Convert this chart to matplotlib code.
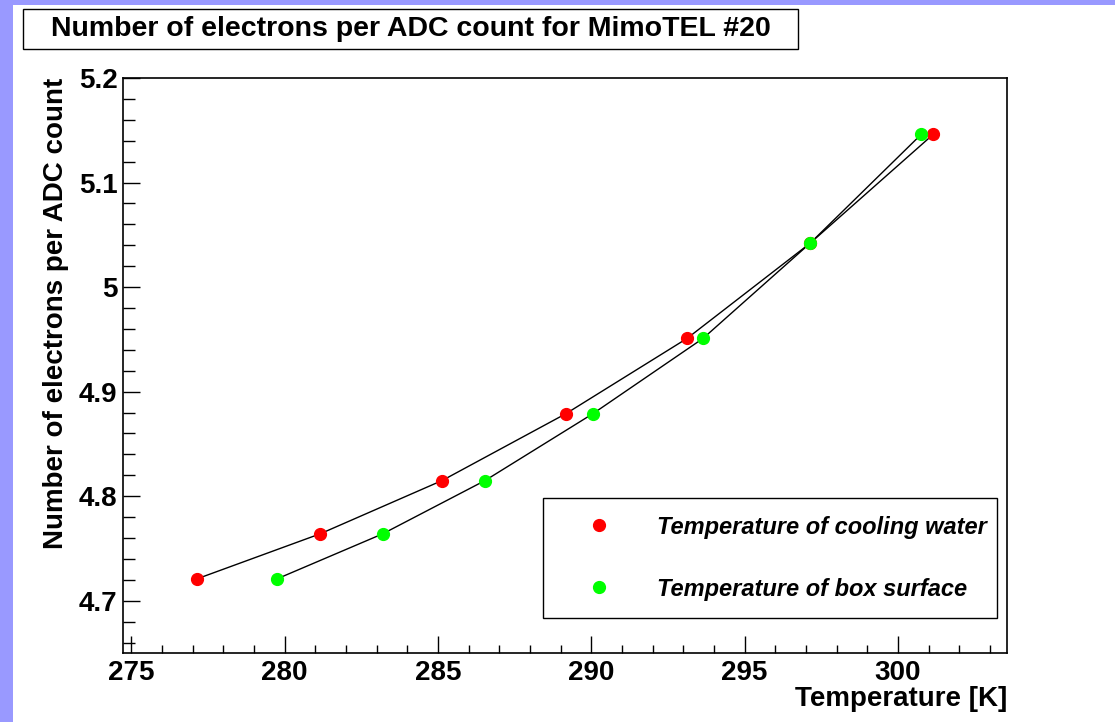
import matplotlib
matplotlib.use('Agg')
import matplotlib.pyplot as plt
from matplotlib.patches import Rectangle
from matplotlib.ticker import MultipleLocator

plt.rcParams['font.family'] = ['Liberation Sans', 'DejaVu Sans']
plt.rcParams['font.weight'] = 'bold'
plt.rcParams['axes.labelweight'] = 'bold'

# cooling water temperature
t_water = [277.15, 281.16, 285.14, 289.18, 293.13, 297.14, 301.15]
e_water = [4.721, 4.764, 4.815, 4.879, 4.951, 5.042, 5.146]

# box surface temperature
t_box = [279.76, 283.2, 286.54, 290.06, 293.65, 297.14, 300.76]
e_box = [4.721, 4.764, 4.815, 4.879, 4.951, 5.042, 5.146]

W, H = 1115, 722
fig = plt.figure(figsize=(W / 100, H / 100), dpi=100, facecolor='#9999ff')

# white pad (lavender strip left and top)
fig.patches.append(Rectangle((13 / W, 0), 1 - 13 / W, 1 - 5 / H,
                             transform=fig.transFigure, facecolor='white',
                             edgecolor='none', zorder=-5))

ax = fig.add_axes([123 / W, 1 - 653 / H, (1007 - 123) / W, (653 - 78) / H])
ax.set_facecolor('white')

ax.plot(t_water, e_water, '-', color='black', lw=1.0, zorder=2)
ax.plot(t_box, e_box, '-', color='black', lw=1.0, zorder=2)
ax.plot(t_water, e_water, 'o', color='#ff0000', ms=8.5, mec='#ff0000', zorder=3,
        label='Temperature of cooling water')
ax.plot(t_box, e_box, 'o', color='#00ff00', ms=8.5, mec='#00ff00', zorder=4,
        label='Temperature of box surface')

ax.set_xlim(274.73, 303.56)
ax.set_ylim(4.65, 5.2)

ax.xaxis.set_major_locator(MultipleLocator(5))
ax.xaxis.set_minor_locator(MultipleLocator(1))
ax.yaxis.set_major_locator(MultipleLocator(0.1))
ax.yaxis.set_minor_locator(MultipleLocator(0.02))
ax.yaxis.set_major_formatter(matplotlib.ticker.FuncFormatter(lambda v, p: ('%g' % round(v, 2))))

ax.tick_params(axis='both', which='both', direction='in', top=False, right=False,
               width=1.0, labelsize=20)
ax.tick_params(axis='x', which='major', length=12.2, pad=5)
ax.tick_params(axis='x', which='minor', length=5.8)
ax.tick_params(axis='y', which='major', length=12.2, pad=4)
ax.tick_params(axis='y', which='minor', length=8.6)
for s in ax.spines.values():
    s.set_linewidth(1.2)

ax.set_xlabel('Temperature [K]', loc='right', fontsize=20, labelpad=0)
ax.set_ylabel('Number of electrons per ADC count', loc='top', fontsize=20, labelpad=7)

leg = ax.legend(loc='lower left',
                bbox_to_anchor=(543 / W, 1 - 618 / H, (997 - 543) / W, (618 - 494) / H),
                bbox_transform=fig.transFigure, mode='expand',
                prop={'size': 17, 'style': 'italic', 'weight': 'bold'},
                frameon=True, fancybox=False, edgecolor='black', framealpha=1,
                borderpad=0.74, labelspacing=1.65, handlelength=3.25,
                handletextpad=0.83, borderaxespad=0, markerscale=1.0)
leg.get_frame().set_linewidth(1.0)

# title box
fig.patches.append(Rectangle((23 / W, 1 - 49 / H), (798 - 23) / W, 40 / H,
                             transform=fig.transFigure, facecolor='white',
                             edgecolor='black', lw=1.0, zorder=1))
fig.text((23 + 798) / 2 / W, 1 - 29 / H, 'Number of electrons per ADC count for MimoTEL #20',
         ha='center', va='center', fontsize=20.5, fontweight='bold')

fig.savefig('out.png', dpi=100, facecolor=fig.get_facecolor())
